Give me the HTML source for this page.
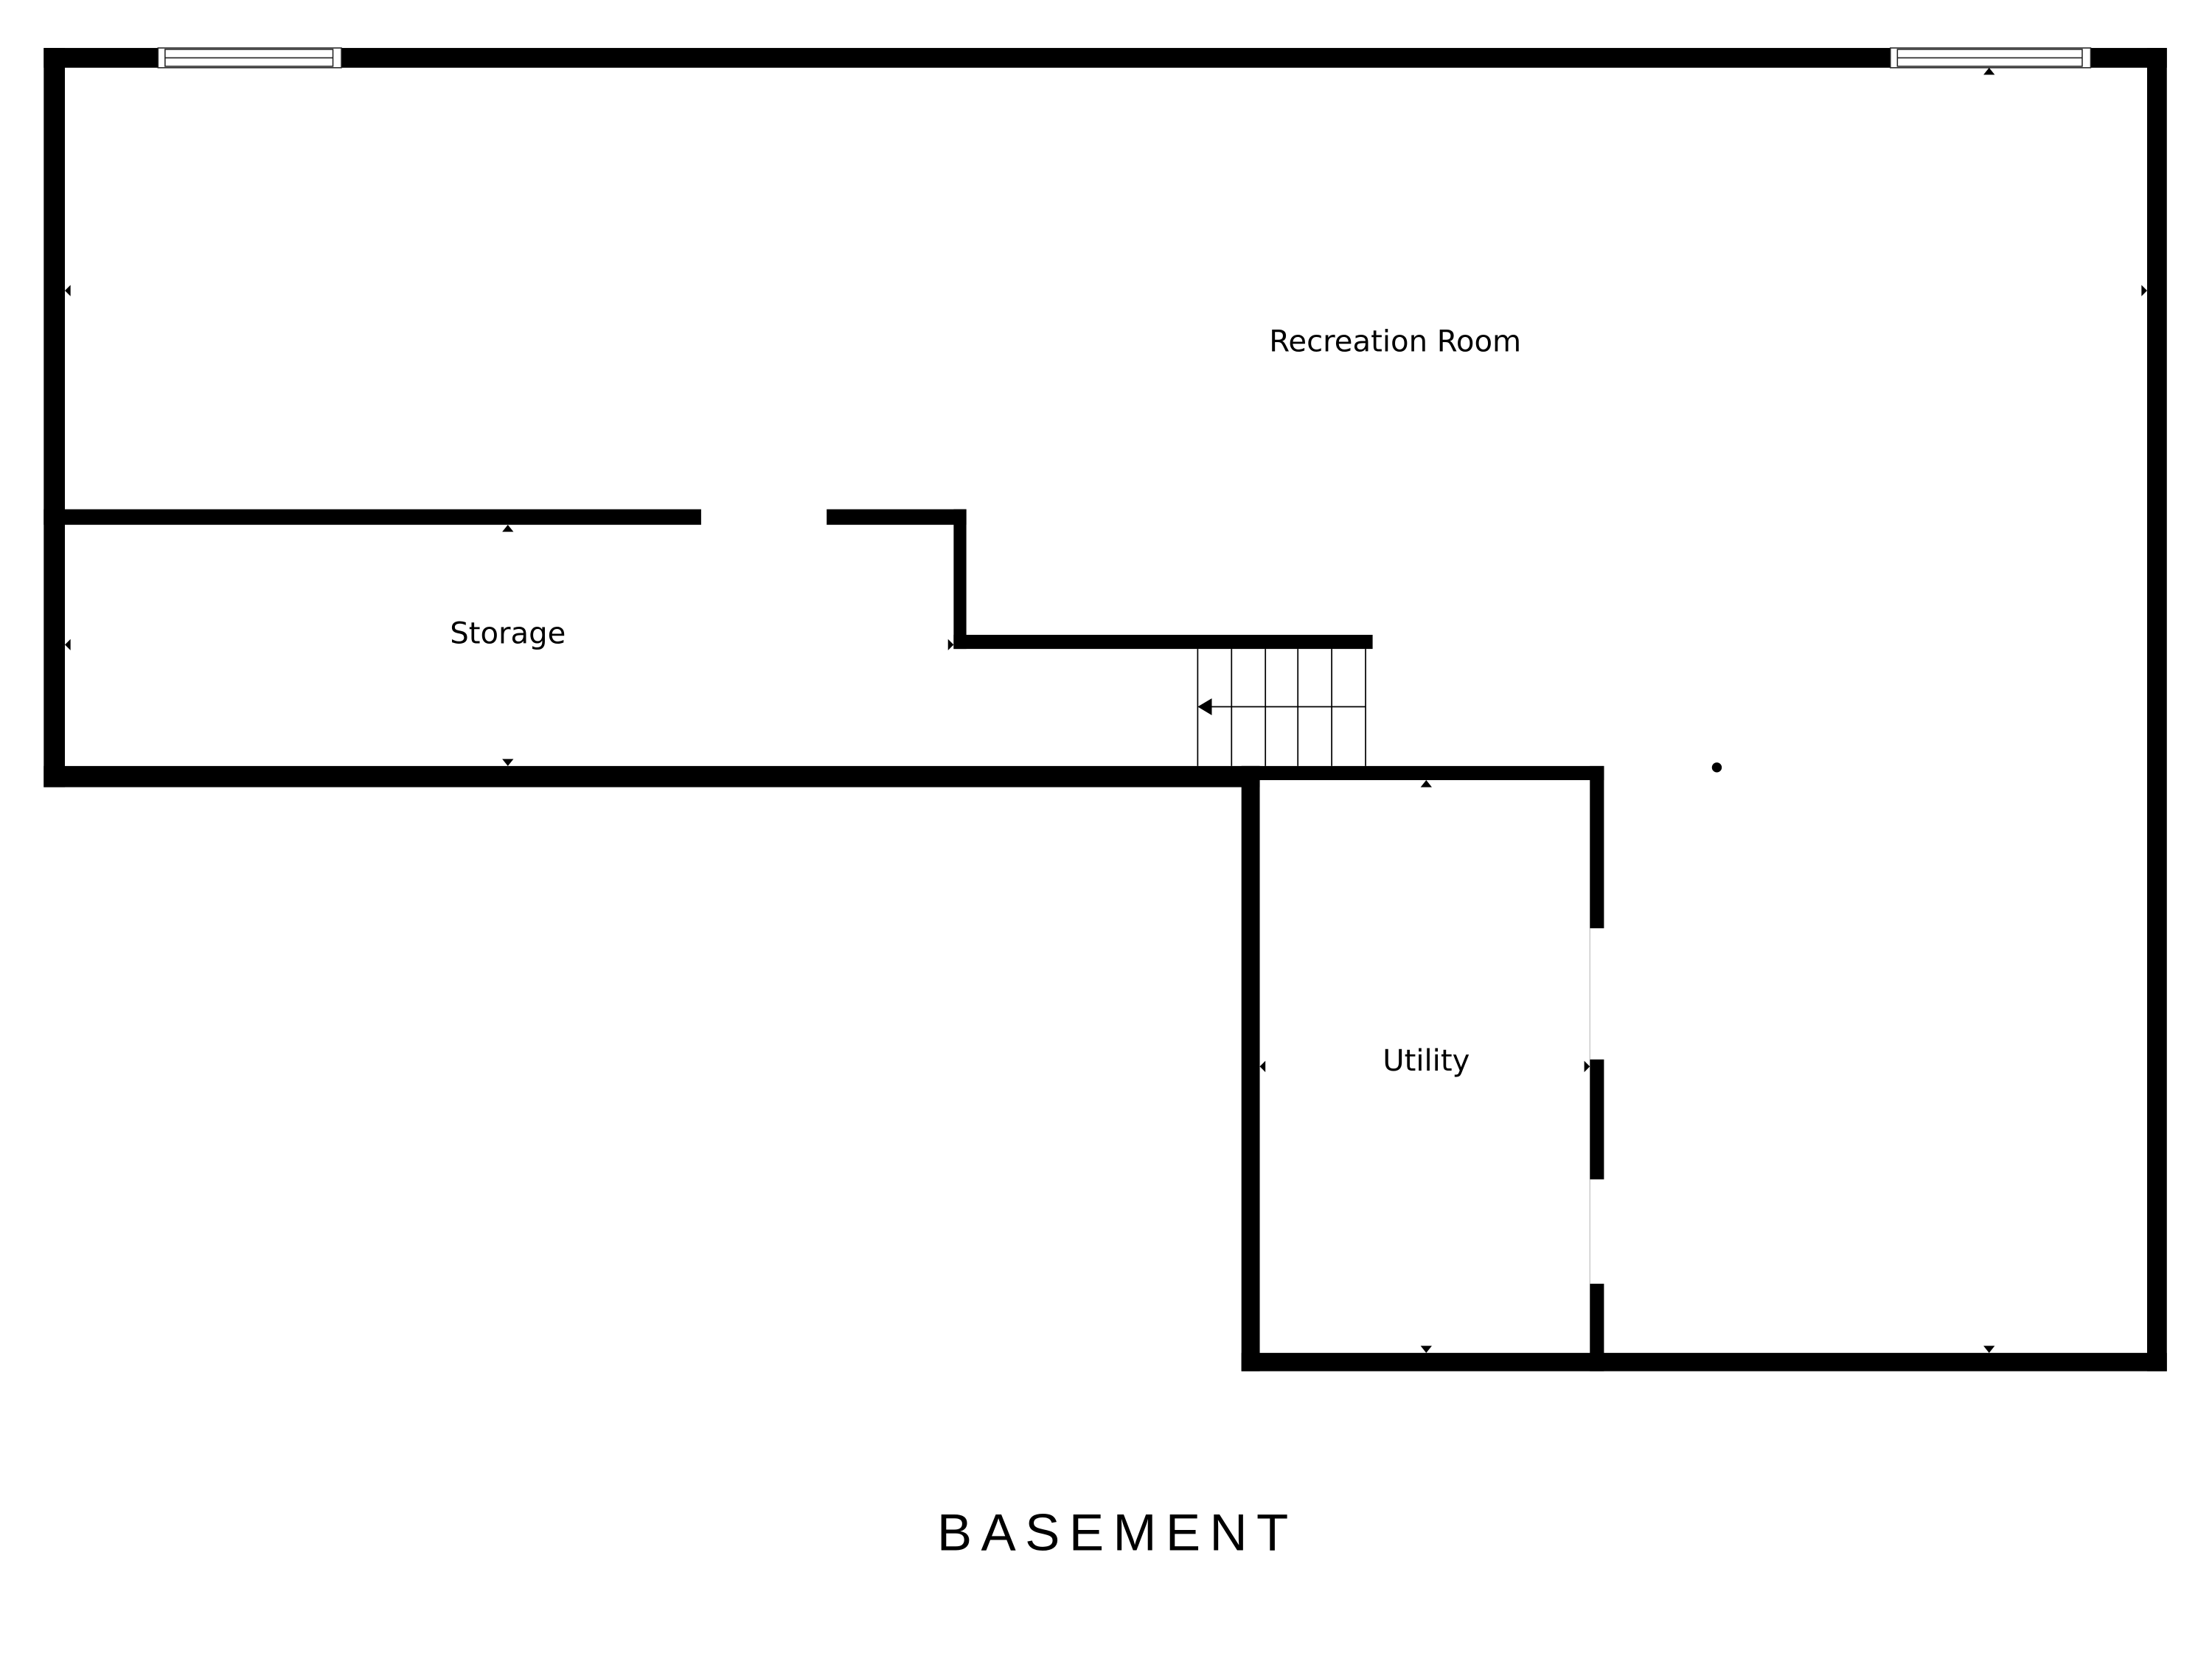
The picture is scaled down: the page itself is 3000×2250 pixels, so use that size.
<!DOCTYPE html>
<html><head><meta charset="utf-8"><style>
html,body{margin:0;padding:0;background:#fff;}
svg{display:block;}
text{fill:#000;}
</style></head><body>
<svg width="3000" height="2250" viewBox="0 0 1568 1176" preserveAspectRatio="none" xmlns="http://www.w3.org/2000/svg">
<rect width="1568" height="1176" fill="#fff"/>
<g fill="#000">
<rect x="31" y="34" width="1505" height="14"/>
<rect x="31" y="34" width="15" height="524"/>
<rect x="1522" y="34" width="14" height="938"/>
<rect x="880" y="959" width="656" height="13"/>
<rect x="31" y="361" width="654" height="11"/>
<rect x="676" y="361" width="9" height="99"/>
<rect x="676" y="450" width="297" height="10"/>
<rect x="31" y="543" width="862" height="15"/>
<rect x="880" y="543" width="257" height="10"/>
<rect x="880" y="543" width="13" height="429"/>
<rect x="1127" y="543" width="10" height="429"/>
</g>
<rect x="497" y="360" width="89" height="13" fill="#fff"/>
<rect x="1126" y="658" width="12" height="93" fill="#fff"/>
<rect x="1126" y="836" width="12" height="74" fill="#fff"/>
<line x1="1127" y1="658" x2="1127" y2="751" stroke="#bbb" stroke-width="0.6"/>
<line x1="1127" y1="836" x2="1127" y2="910" stroke="#bbb" stroke-width="0.6"/>
<g fill="#fff" stroke="#222" stroke-width="0.8">
<rect x="112" y="34" width="130" height="14"/>
<rect x="117" y="35" width="119" height="12"/>
<line x1="117" y1="41" x2="236" y2="41"/>
<rect x="1340" y="34" width="142" height="14"/>
<rect x="1345" y="35" width="131" height="12"/>
<line x1="1345" y1="41" x2="1476" y2="41"/>
</g>
<g stroke="#000" stroke-width="0.9">
<line x1="849" y1="460" x2="849" y2="543"/>
<line x1="873" y1="460" x2="873" y2="543"/>
<line x1="897" y1="460" x2="897" y2="543"/>
<line x1="920" y1="460" x2="920" y2="543"/>
<line x1="944" y1="460" x2="944" y2="543"/>
<line x1="968" y1="460" x2="968" y2="543"/>
<line x1="858" y1="501" x2="968" y2="501"/>
</g>
<polygon points="849,501 859,495 859,507" fill="#000"/>
<circle cx="1217" cy="544" r="3.5" fill="#000"/>
<g fill="#000">
<polygon points="46,206 50,202 50,210"/>
<polygon points="1522,206 1518,202 1518,210"/>
<polygon points="1410,48 1406,53 1414,53"/>
<polygon points="360,372 356,377 364,377"/>
<polygon points="360,543 356,538 364,538"/>
<polygon points="46,457 50,453 50,461"/>
<polygon points="676,457 672,453 672,461"/>
<polygon points="1011,553 1007,558 1015,558"/>
<polygon points="1011,959 1007,954 1015,954"/>
<polygon points="893,756 897,752 897,760"/>
<polygon points="1127,756 1123,752 1123,760"/>
<polygon points="1410,959 1406,954 1414,954"/>
</g>
<g font-family="'DejaVu Sans',sans-serif" font-size="21" text-anchor="middle">
<text x="989" y="249">Recreation Room</text>
<text x="360" y="456">Storage</text>
<text x="1011" y="759">Utility</text>
</g>
<text x="792" y="1099" font-family="'Liberation Sans',sans-serif" font-size="37" text-anchor="middle" letter-spacing="6.5">BASEMENT</text>
</svg>
</body></html>
